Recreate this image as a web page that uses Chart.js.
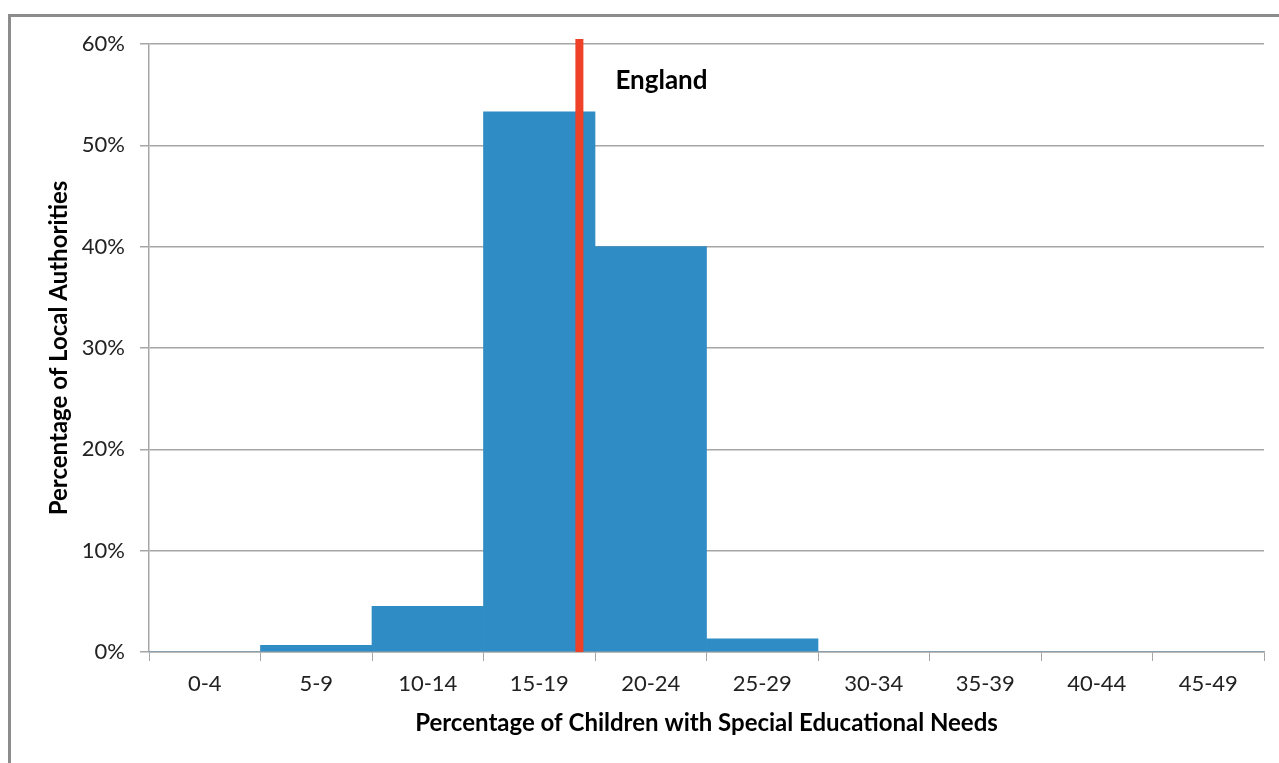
<!DOCTYPE html>
<html>
<head>
<meta charset="utf-8">
<style>
  html, body { margin: 0; padding: 0; background: #fff; }
  .frame { position: relative; width: 1279px; height: 763px; overflow: hidden; }
  .frame::before {
    content: ''; position: absolute; left: 8px; top: 14px; width: 2000px; height: 2000px;
    border-left: 3px solid #8c8c8c; border-top: 3px solid #8c8c8c; pointer-events: none;
  }
  canvas { position: absolute; left: 0; top: 0; }
</style>
</head>
<body>
<div class="frame">
  <canvas id="chart" width="1279" height="763"></canvas>
</div>

<script src="https://cdn.jsdelivr.net/npm/chart.js"></script>

<script>
  // bins of SEN percentage, share of local authorities in each bin (%)
  const bins = ['0-4', '5-9', '10-14', '15-19', '20-24', '25-29', '30-34', '35-39', '40-44', '45-49']
  const shares = [0, 0.67, 4.5, 53.3, 40, 1.3, 0, 0, 0, 0]
  const yTicks = [0, 10, 20, 30, 40, 50, 60]

  // England average, on a 0-50 scale that spans the bins
  const englandValue = 19.3
  const englandLine = [0, 60.5]
  const englandLabel = 'England'
  const englandLabelY = 56.4

  const font = 'Lato, "Open Sans", sans-serif'
  const grey = '#a6a6a6'

  const englandText = {
    id: 'englandText',
    afterDatasetsDraw(chart) {
      const { ctx, scales } = chart
      const x = scales.xv.getPixelForValue(englandValue) + 36
      const y = scales.y.getPixelForValue(englandLabelY)
      ctx.save()
      ctx.font = 'bold 26px ' + font
      ctx.fillStyle = '#000'
      ctx.textBaseline = 'middle'
      ctx.fillText(englandLabel, x, y)
      ctx.restore()
    }
  }

  new Chart(document.getElementById('chart'), {
    type: 'bar',
    data: {
      labels: bins,
      datasets: [
        {
          data: shares,
          backgroundColor: '#2f8cc5',
          barPercentage: 1,
          categoryPercentage: 1,
          grouped: false,
          xAxisID: 'x',
          order: 2
        },
        {
          type: 'line',
          data: englandLine.map(v => ({ x: englandValue, y: v })),
          borderColor: '#ee4127',
          borderWidth: 8,
          pointRadius: 0,
          xAxisID: 'xv',
          clip: false,
          order: 1
        }
      ]
    },
    options: {
      responsive: false,
      animation: false,
      layout: { padding: { left: 0, right: 15, top: 44, bottom: 0 } },
      plugins: { legend: { display: false }, tooltip: { enabled: false } },
      scales: {
        x: {
          type: 'category',
          offset: true,
          afterFit: s => { s.height = 111 },
          grid: { offset: true, drawOnChartArea: false, tickLength: 9, color: grey },
          border: { color: grey, width: 1.5 },
          ticks: { color: '#222', font: { family: font, size: 22 }, padding: 10, maxRotation: 0 },
          title: {
            display: true,
            text: 'Percentage of Children with Special Educational Needs',
            color: '#000',
            font: { family: font, size: 24, weight: 'bold' },
            padding: { top: 0, bottom: 25 }
          }
        },
        xv: {
          type: 'linear',
          min: 0,
          max: 50,
          offset: false,
          grid: { offset: false },
          display: false
        },
        y: {
          min: 0,
          max: 60,
          afterFit: s => { s.width = 149 },
          afterBuildTicks: s => { s.ticks = yTicks.map(v => ({ value: v })) },
          grid: { color: grey, lineWidth: 1.5, tickLength: 9 },
          border: { color: grey, width: 1.5 },
          ticks: {
            color: '#222',
            font: { family: font, size: 22 },
            padding: 15,
            callback: v => v + '%'
          },
          title: {
            display: true,
            text: 'Percentage of Local Authorities',
            color: '#000',
            font: { family: font, size: 24, weight: 'bold' },
            padding: { top: 45, bottom: 0 }
          }
        }
      }
    },
    plugins: [englandText]
  })
</script>
</body>
</html>
